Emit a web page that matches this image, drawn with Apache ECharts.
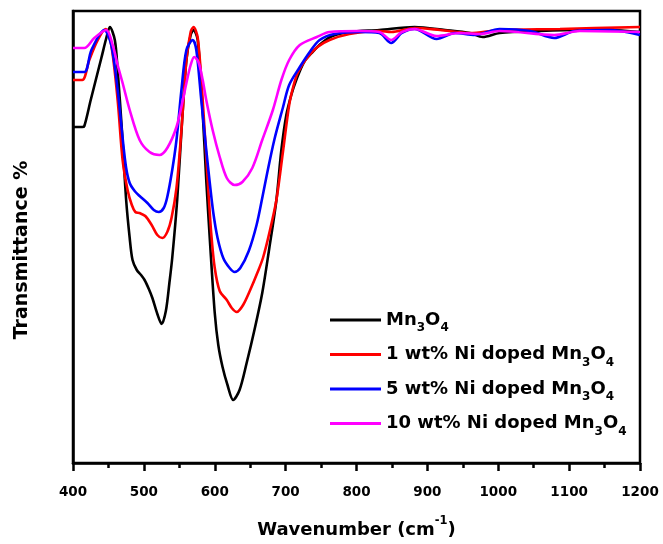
<!DOCTYPE html>
<html>
<head>
<meta charset="utf-8">
<script src="https://cdn.jsdelivr.net/npm/echarts@6/dist/echarts.min.js"></script>
<style>html,body{margin:0;padding:0;background:#fff}#c{width:663px;height:544px}</style>
</head>
<body>
<div id="c"></div>
<script>
// Wavenumber (cm^-1) vs transmittance (arbitrary units, axis unlabeled)
const seriesNames = ['Mn3O4', '1 wt% Ni doped Mn3O4', '5 wt% Ni doped Mn3O4', '10 wt% Ni doped Mn3O4'];
const xTicks = [400, 500, 600, 700, 800, 900, 1000, 1100, 1200];

const mn3o4 = [[400,336],[413,336],[416,337],[425,363],[440,405],[447,425],[452,436],[459,423],[463,393],[469,333],[475,263],[480,225],[484,203],[490,193],[496,188],[501,183],[507,174],[512,165],[519,149],[525,139],[531,152],[536,180],[540,205],[547,263],[554,343],[560,403],[566,428],[570,433],[576,423],[583,350],[588,283],[594,213],[600,150],[605,118],[611,96],[618,78],[626,63],[635,73],[645,100],[656,133],[667,170],[677,215],[687,263],[694,313],[701,348],[708,368],[715,383],[726,401],[738,411],[751,420],[766,427],[790,431],[832,433],[882,436],[925,433],[960,430],[978,426],[1002,430],[1059,432],[1115,433],[1157,433],[1200,431]];

const ni1 = [[400,383],[413,383],[423,403],[435,423],[446,434],[454,418],[463,363],[470,303],[477,273],[483,258],[488,251],[494,250],[502,247],[511,238],[519,228],[526,225],[533,231],[539,245],[546,275],[553,333],[560,403],[566,431],[570,436],[576,425],[583,363],[590,283],[595,230],[600,195],[607,172],[617,163],[624,155],[631,151],[640,158],[650,173],[660,190],[668,205],[677,230],[687,263],[696,310],[705,358],[711,377],[717,390],[729,404],[745,416],[762,423],[790,429],[832,432],[849,431],[882,435],[918,433],[960,430],[1002,433],[1087,434],[1200,436]];

const ni5 = [[400,391],[416,391],[426,413],[444,433],[454,418],[463,373],[470,325],[475,295],[480,280],[487,272],[494,267],[505,260],[514,253],[521,251],[528,255],[533,266],[540,293],[546,323],[553,373],[560,413],[569,423],[574,413],[581,363],[588,313],[593,280],[598,250],[604,225],[612,205],[621,195],[628,191],[636,195],[648,212],[659,238],[667,265],[674,290],[684,323],[696,355],[705,378],[720,396],[734,411],[748,423],[769,429],[804,431],[832,430],[849,420],[864,430],[882,434],[913,424],[939,430],[967,428],[1002,434],[1045,432],[1079,425],[1108,432],[1157,433],[1200,428]];

const ni10 = [[400,415],[416,415],[430,425],[447,433],[456,418],[463,398],[470,380],[480,353],[494,323],[508,311],[522,308],[533,315],[546,336],[555,363],[560,380],[566,398],[571,406],[577,401],[583,383],[588,363],[597,333],[607,306],[617,285],[628,278],[639,281],[653,295],[667,323],[682,353],[694,383],[705,403],[720,418],[744,426],[762,431],[804,432],[832,431],[849,423],[864,431],[882,434],[913,427],[946,430],[974,429],[1002,432],[1079,428],[1115,432],[1200,431]];

const colors = ['#000000', '#ff0000', '#0000ff', '#ff00ff'];
const dataSets = [mn3o4, ni1, ni5, ni10];

const FONT = 'DejaVu Sans, sans-serif';

function legendFmt(name) {
  const idx = name.indexOf('Mn3O4');
  const pre = name.substring(0, idx);
  return (pre ? '{a|' + pre + '}' : '') + '{a|Mn}{s|3}{a|O}{s|4}';
}

const chart = echarts.init(document.getElementById('c'));
chart.setOption({
  animation: false,
  backgroundColor: '#fff',
  grid: { left: 73, right: 23, top: 11, bottom: 81, show: true, borderColor: '#000', borderWidth: 2.5 },
  xAxis: {
    type: 'value', min: 400, max: 1200, interval: 100,
    axisLine: { show: true, onZero: false, lineStyle: { color: '#000', width: 2.5 } },
    axisTick: { show: true, inside: false, length: 8, lineStyle: { color: '#000', width: 2.5 } },
    minorTick: { show: true, splitNumber: 2, length: 5, lineStyle: { color: '#000', width: 2.5 } },
    splitLine: { show: false },
    axisLabel: { margin: 22, color: '#000', fontSize: 13.5, fontWeight: 'bold', fontFamily: FONT,
      formatter: v => xTicks.includes(v) ? String(v) : '' },
    name: '{n|Wavenumber (cm}{p|-1}{n|)}',
    nameLocation: 'middle', nameGap: 52,
    nameTextStyle: { rich: {
      n: { fontSize: 18, fontWeight: 'bold', fontFamily: FONT, color: '#000', lineHeight: 24, verticalAlign: 'bottom' },
      p: { fontSize: 11.5, fontWeight: 'bold', fontFamily: FONT, color: '#000', lineHeight: 24, verticalAlign: 'top' }
    } }
  },
  yAxis: {
    type: 'value', min: 0, max: 452,
    axisLine: { show: true, lineStyle: { color: '#000', width: 2.5 } },
    axisTick: { show: false }, axisLabel: { show: false }, splitLine: { show: false },
    name: 'Transmittance %', nameLocation: 'middle', nameGap: 41, nameRotate: 90,
    nameTextStyle: { fontSize: 19, fontWeight: 'bold', fontFamily: FONT, color: '#000', padding: [0, 26, 0, 0] }
  },
  legend: {
    orient: 'vertical', left: 330, top: 311, padding: 0, itemWidth: 51, itemHeight: 3, itemGap: 11.5,
    icon: 'rect', data: seriesNames,
    formatter: legendFmt,
    textStyle: { padding: [0, 0, 0, 0], rich: {
      a: { fontSize: 18, fontWeight: 'bold', fontFamily: FONT, color: '#000', lineHeight: 28, verticalAlign: 'middle' },
      s: { fontSize: 12, fontWeight: 'bold', fontFamily: FONT, color: '#000', lineHeight: 12, verticalAlign: 'bottom' }
    } }
  },
  series: seriesNames.map((n, i) => ({
    name: n, type: 'line', data: dataSets[i], smooth: 0.3, showSymbol: false, symbol: 'none',
    color: colors[i], lineStyle: { color: colors[i], width: 2.6 }, z: 2 + i
  }))
});
</script>
</body>
</html>
